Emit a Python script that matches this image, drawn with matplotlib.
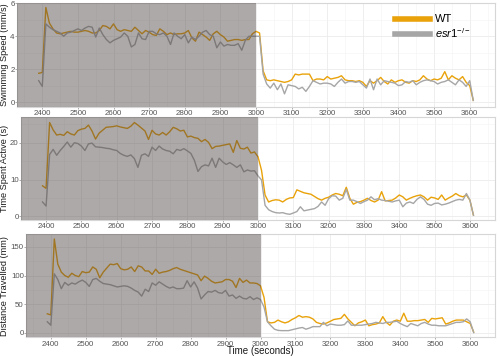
import numpy as np
import matplotlib
matplotlib.use('Agg')
import matplotlib.pyplot as plt
from matplotlib.lines import Line2D

plt.rcParams['font.family'] = ['Liberation Sans', 'DejaVu Sans']
plt.rcParams['mathtext.fontset'] = 'custom'
plt.rcParams['mathtext.rm'] = 'Liberation Sans'
plt.rcParams['mathtext.it'] = 'Liberation Sans:italic'

# time grid, one point every 10 s
time_s = np.arange(2390, 3611, 10)
dark_end = 3000

speed_wt = [1.75, 1.8, 5.75, 4.8, 4.45, 4.2, 4.15, 4.2, 4.25, 4.3, 4.25, 4.25, 4.3, 4.35, 4.3, 4.2,
            4.2, 4.35, 4.65, 4.6, 4.45, 4.75, 4.4, 4.3, 4.4, 4.35, 4.3, 4.55, 4.35, 4.15, 4.35, 4.25,
            4.1, 4.05, 4.45, 4.3, 4.1, 4.2, 4.1, 4.15, 4.15, 4.2, 4.35, 3.9, 3.7, 4.25, 4.1, 3.95,
            3.75, 4.15, 4.3, 4.1, 3.95, 3.7, 3.75, 3.8, 3.8, 3.75, 3.8, 3.8, 4.15, 4.3, 4.2,
            1.9, 1.35, 1.3, 1.35, 1.3, 1.25, 1.2, 1.25, 1.35, 1.7, 1.65, 1.7, 1.7, 1.7, 1.3, 1.4,
            1.4, 1.35, 1.55, 1.4, 1.45, 1.5, 1.6, 1.35, 1.3, 1.3, 1.25, 1.3, 1.2, 0.95, 1.3, 1.15,
            1.3, 1.5, 1.25, 1.1, 1.35, 1.2, 1.3, 1.35, 1.2, 1.15, 1.3, 1.25, 1.35, 1.6, 1.4, 1.3,
            1.4, 1.35, 1.45, 1.85, 1.35, 1.6, 1.45, 1.35, 1.55, 1.2, 1.0, 0.1]
speed_ko = [1.3, 0.95, 4.75, 4.55, 4.4, 4.3, 4.2, 4.0, 4.2, 4.25, 4.35, 4.45, 4.35, 4.5, 4.6, 4.55,
            3.95, 4.5, 4.1, 3.8, 3.6, 3.75, 3.85, 3.95, 4.2, 4.0, 3.35, 3.5, 4.2, 3.85, 3.8, 4.3,
            4.3, 4.15, 4.1, 4.2, 4.0, 3.5, 4.2, 4.0, 3.85, 4.1, 3.6, 3.95, 3.8, 4.0, 4.25, 4.35,
            4.1, 4.0, 3.3, 3.65, 3.4, 3.5, 3.45, 3.45, 3.55, 3.15, 3.75, 4.0, 4.0, 4.0, 4.0,
            1.7, 1.1, 0.85, 1.15, 0.75, 1.1, 0.5, 1.05, 1.0, 0.95, 0.8, 0.9, 0.65, 0.95, 1.3, 1.2,
            1.1, 1.15, 1.15, 1.1, 0.95, 1.2, 1.4, 1.15, 1.25, 1.25, 1.2, 1.25, 1.05, 0.85, 1.4, 0.75,
            1.4, 1.05, 1.3, 1.25, 1.2, 1.15, 1.0, 1.05, 1.25, 1.2, 1.3, 1.05, 1.2, 1.3, 1.35, 1.3,
            1.25, 1.1, 1.2, 1.25, 1.35, 1.2, 1.05, 1.35, 1.2, 0.95, 1.3, 0.1]

active_wt = [8.3, 7.6, 25.5, 23.5, 22.1, 22.3, 22.0, 23.0, 22.4, 22.1, 23.3, 23.7, 23.9, 24.8, 23.2, 21.0,
             22.6, 23.4, 24.2, 24.3, 24.4, 24.6, 24.3, 24.1, 23.9, 24.5, 25.5, 24.8, 24.0, 23.2, 20.9, 23.4,
             22.4, 22.1, 22.8, 22.1, 23.0, 24.2, 23.8, 23.2, 23.4, 21.6, 21.8, 21.4, 21.2, 20.3, 20.9, 20.1,
             18.4, 19.0, 19.1, 19.3, 19.5, 19.7, 17.4, 20.6, 18.5, 18.3, 18.8, 17.2, 17.5, 16.2,
             12.5, 5.8, 3.9, 4.3, 4.5, 4.4, 3.9, 4.6, 5.0, 5.1, 7.2, 6.8, 6.4, 6.2, 6.0, 5.4,
             4.8, 4.4, 4.9, 5.2, 5.8, 6.2, 6.0, 5.6, 7.9, 4.9, 3.3, 3.8, 4.0, 4.4, 4.9, 4.3,
             3.9, 4.4, 6.7, 4.2, 4.3, 4.4, 5.0, 5.8, 5.3, 4.4, 4.9, 5.3, 5.6, 5.8, 5.3, 4.4,
             5.2, 5.0, 4.6, 5.8, 4.4, 5.0, 5.5, 6.2, 5.6, 5.3, 5.8, 4.4, 0.3]
active_ko = [3.9, 2.8, 16.8, 18.2, 16.6, 17.9, 19.0, 20.2, 18.8, 20.0, 19.8, 19.1, 17.9, 19.7, 19.9, 18.9,
             18.8, 18.7, 18.5, 18.4, 18.1, 17.9, 17.1, 16.6, 16.3, 16.7, 15.7, 13.3, 16.6, 17.0, 16.3, 18.8,
             17.9, 19.1, 18.3, 17.9, 17.7, 17.0, 18.2, 17.9, 18.4, 17.8, 17.1, 15.2, 12.2, 13.5, 14.0, 13.7,
             15.8, 13.3, 15.8, 14.8, 14.1, 14.6, 14.0, 13.3, 14.0, 12.1, 12.6, 12.3, 12.4, 11.0,
             9.9, 3.0, 1.8, 1.3, 1.0, 0.9, 1.0, 0.7, 0.55, 0.9, 1.3, 2.6, 1.5, 1.7, 1.9, 2.1,
             2.7, 3.9, 3.0, 4.8, 5.6, 5.5, 4.4, 4.9, 7.3, 4.4, 4.4, 4.0, 3.5, 4.0, 4.4, 5.3,
             4.5, 4.8, 4.4, 4.3, 4.1, 3.9, 4.2, 4.4, 2.6, 3.6, 3.9, 3.5, 4.6, 5.3, 4.6, 3.3,
             3.0, 3.5, 3.6, 3.1, 3.3, 3.6, 4.0, 4.4, 4.6, 4.4, 6.2, 4.4, 0.3]

dist_wt = [33, 31, 164, 120, 106, 100, 97, 104, 100, 98, 107, 105, 106, 115, 111, 96,
           106, 113, 120, 119, 121, 112, 110, 111, 115, 107, 117, 115, 108, 108, 102, 111,
           104, 106, 107, 109, 112, 114, 111, 109, 107, 105, 103, 101, 91, 99, 95, 90,
           87, 88, 89, 93, 93, 90, 79, 95, 88, 92, 87, 87, 86, 82,
           62, 19, 17, 18, 22, 19, 17, 19, 23, 26, 30, 27, 28, 27, 24, 18,
           16, 15, 17, 20, 23, 24, 25, 32, 24, 18, 12, 17, 19, 22, 12, 14,
           15, 17, 28, 18, 13, 20, 22, 20, 34, 20, 20, 21, 21, 22, 23, 18,
           25, 24, 25, 26, 15, 17, 20, 22, 22, 22, 19, 16, 1]
dist_ko = [19, 13, 103, 93, 77, 88, 83, 87, 85, 89, 92, 88, 81, 93, 95, 90,
           86, 85, 84, 82, 80, 81, 82, 81, 78, 74, 71, 64, 76, 72, 87, 83,
           89, 85, 81, 78, 80, 77, 77, 78, 91, 80, 89, 78, 59, 66, 72, 71,
           74, 70, 69, 74, 64, 66, 60, 64, 60, 59, 63, 58, 61, 58,
           45, 19, 12, 6, 4, 3.5, 3.5, 3.5, 5, 6.5, 8, 9, 6, 8, 10.5, 10.5,
           10.5, 18, 12, 15, 14, 13, 13, 14, 20.5, 13, 13, 13, 13, 14, 15, 16,
           18, 17, 16, 18, 18, 19, 20, 16, 13, 10.5, 16, 14, 12, 16, 18, 15,
           13, 13, 12, 12, 12, 14, 16, 18, 18, 19, 24, 19, 0]

wt_col = '#E9A20A'
ko_col = '#A6A6A6'
x_lim = (2329, 3671)
x_ticks = list(range(2400, 3601, 100))


def panel(rect, wt, ko, ylab, ylim, yticks, yminor):
    ax = fig.add_axes(rect)
    ax.plot(time_s, wt, color=wt_col, lw=1.0, zorder=2)
    ax.plot(time_s, ko, color=ko_col, lw=1.0, zorder=2)
    ax.axvspan(x_lim[0], dark_end, color='#4a4141', alpha=0.45, lw=0, zorder=3)
    ax.set_xlim(*x_lim)
    ax.set_ylim(*ylim)
    ax.set_xticks(x_ticks)
    ax.set_xticks([v + 50 for v in [2300] + x_ticks], minor=True)
    ax.set_yticks(yticks)
    ax.set_yticks(yminor, minor=True)
    ax.grid(which='major', color='#EBEBEB', lw=0.6, zorder=0)
    ax.grid(which='minor', color='#F4F4F4', lw=0.4, zorder=0)
    ax.set_axisbelow(True)
    ax.tick_params(which='major', length=1.5, width=0.5, color='#888888', pad=0.8,
                   labelsize=5.7, labelcolor='#555555')
    ax.tick_params(axis='y', which='major', length=1.2, pad=0.4)
    ax.tick_params(which='minor', length=0)
    for s in ax.spines.values():
        s.set_color('#D6D6D6')
        s.set_linewidth(0.8)
    # y label at a fixed place on the left edge, as in the reference
    y_mid = rect[1] + rect[3] / 2
    fig.text(0.009, y_mid, ylab, rotation=90, ha='center', va='center',
             fontsize=6.6, color='#1a1a1a')
    return ax


fig = plt.figure(figsize=(5.0, 3.56), dpi=100)

ax1 = panel([0.034, 0.6994, 0.956, 0.2921], speed_wt, speed_ko, 'Swimming Speed (mm/s)',
            (-0.3, 6.02), [0, 2, 4, 6], [1, 3, 5])
ax2 = panel([0.042, 0.382, 0.948, 0.2893], active_wt, active_ko, 'Time Spent Active (s)',
            (-1.0, 27.0), [0, 10, 20], [5, 15, 25])
ax3 = panel([0.052, 0.0525, 0.938, 0.2893], dist_wt, dist_ko, 'Distance Travelled (mm)',
            (-8.2, 172.2), [0, 50, 100, 150], [25, 75, 125])

fig.text(0.052 + 0.938 / 2, 0.013, 'Time (seconds)', ha='center', va='center',
         fontsize=7, color='#1a1a1a')

handles = [Line2D([0], [0], color=wt_col, lw=4),
           Line2D([0], [0], color=ko_col, lw=4)]
ax1.legend(handles, ['WT', r'$\mathit{esr1}^{-/-}$'], loc='upper left',
           bbox_to_anchor=(0.775, 0.965), frameon=False, fontsize=8,
           handlelength=3.1, handletextpad=0.45, labelspacing=0.12, borderpad=0.2)

fig.savefig('out.png', dpi=100)
